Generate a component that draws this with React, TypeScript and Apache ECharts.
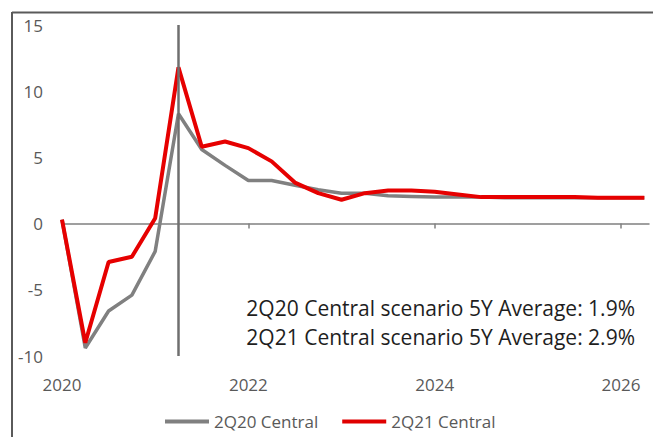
import React, { useEffect, useRef } from "react";
import * as echarts from "echarts";

const quarters = [
  "2020Q1", "2020Q2", "2020Q3", "2020Q4",
  "2021Q1", "2021Q2", "2021Q3", "2021Q4",
  "2022Q1", "2022Q2", "2022Q3", "2022Q4",
  "2023Q1", "2023Q2", "2023Q3", "2023Q4",
  "2024Q1", "2024Q2", "2024Q3", "2024Q4",
  "2025Q1", "2025Q2", "2025Q3", "2025Q4",
  "2026Q1", "2026Q2",
];
const central2Q20 = [
  0.3, -9.4, -6.6, -5.4, -2.1, 8.3, 5.6, 4.4, 3.25, 3.25, 2.9, 2.55, 2.3,
  2.3, 2.1, 2.05, 2.0, 2.0, 2.0, 1.95, 1.95, 1.95, 1.95, 1.95, 1.95, 1.95,
];
const central2Q21 = [
  0.3, -9.0, -2.9, -2.5, 0.4, 11.8, 5.8, 6.2, 5.7, 4.7, 3.1, 2.3, 1.8,
  2.3, 2.5, 2.5, 2.4, 2.2, 2.0, 2.0, 2.0, 2.0, 2.0, 1.95, 1.95, 1.95,
];
const yearTicks = [2020, 2022, 2024, 2026];
const markerQuarter = "2021Q2";
const annotations = [
  "2Q20 Central scenario 5Y Average: 1.9%",
  "2Q21 Central scenario 5Y Average: 2.9%",
];
const seriesNames = ["2Q20 Central", "2Q21 Central"];

const qToX = (q: string) => Number(q.slice(0, 4)) + (Number(q.slice(5)) - 1) / 4;

export default function App() {
  const ref = useRef<HTMLDivElement>(null);
  useEffect(() => {
    if (!ref.current) return;
    const chart = echarts.init(ref.current, null, { renderer: "svg" });
    const font = "Open Sans";
    const labelColor = "#595959";
    chart.setOption({
      animation: false,
      backgroundColor: "#ffffff",
      grid: { left: 62, right: 5, top: 25, bottom: 81 },
      legend: {
        left: 160,
        top: 408,
        icon: "rect",
        itemWidth: 44,
        itemHeight: 4,
        itemGap: 24,
        textStyle: { fontFamily: font, fontSize: 17, color: labelColor },
        data: seriesNames,
      },
      xAxis: [
        {
          type: "value",
          min: 2020,
          max: 2026.3,
          interval: 2,
          axisLine: { onZero: true, lineStyle: { color: "#808080", width: 1.5 } },
          axisTick: {
            show: true,
            length: 5,
            inside: false,
            customValues: yearTicks.slice(1),
            lineStyle: { color: "#808080", width: 1.5 },
          },
          axisLabel: { show: false },
          splitLine: { show: false },
        },
        {
          type: "value",
          position: "bottom",
          min: 2020,
          max: 2026.3,
          interval: 2,
          axisLine: { show: false, onZero: false },
          axisTick: { show: false },
          axisLabel: {
            show: true,
            margin: 20,
            customValues: yearTicks,
            fontFamily: font,
            fontSize: 17,
            color: labelColor,
            formatter: (v: number) => String(Math.round(v)),
          },
          splitLine: { show: false },
        },
      ],
      yAxis: {
        type: "value",
        min: -10,
        max: 15,
        interval: 5,
        axisLine: { show: false },
        axisTick: { show: false },
        splitLine: { show: false },
        axisLabel: { margin: 19, fontFamily: font, fontSize: 17, color: labelColor },
      },
      series: [
        {
          name: seriesNames[0],
          type: "line",
          xAxisIndex: 0,
          showSymbol: false,
          symbol: "none",
          color: "#808080",
          lineStyle: { color: "#808080", width: 3.5 },
          data: quarters.map((q, i) => [qToX(q), central2Q20[i]]),
          markLine: {
            silent: true,
            symbol: ["none", "none"],
            label: { show: false },
            lineStyle: { color: "#6f6f6f", width: 2.5, type: "solid" },
            data: [
              [
                { coord: [qToX(markerQuarter), -10] },
                { coord: [qToX(markerQuarter), 15] },
              ],
            ],
          },
          z: 2,
        },
        {
          name: seriesNames[1],
          type: "line",
          xAxisIndex: 0,
          showSymbol: false,
          symbol: "none",
          color: "#e00000",
          lineStyle: { color: "#e60000", width: 4 },
          data: quarters.map((q, i) => [qToX(q), central2Q21[i]]),
          z: 3,
        },
      ],
      graphic: [
        {
          type: "line",
          shape: { x1: 12, y1: 12, x2: 12, y2: 437 },
          style: { stroke: "#5a5a5a", lineWidth: 2 },
        },
        {
          type: "line",
          shape: { x1: 12, y1: 12.5, x2: 653, y2: 12.5 },
          style: { stroke: "#5a5a5a", lineWidth: 2 },
        },
        ...annotations.map((t, i) => ({
          type: "text",
          x: 635,
          y: 308 + i * 29,
          style: {
            text: t,
            align: "right",
            verticalAlign: "middle",
            fontFamily: font,
            fontSize: 21,
            fill: "#1e1e1e",
          },
        })),
      ],
    });
    return () => chart.dispose();
  }, []);
  return (
    <div
      ref={ref}
      style={{ position: "fixed", left: 0, top: 0, width: 654, height: 437 }}
    />
  );
}
